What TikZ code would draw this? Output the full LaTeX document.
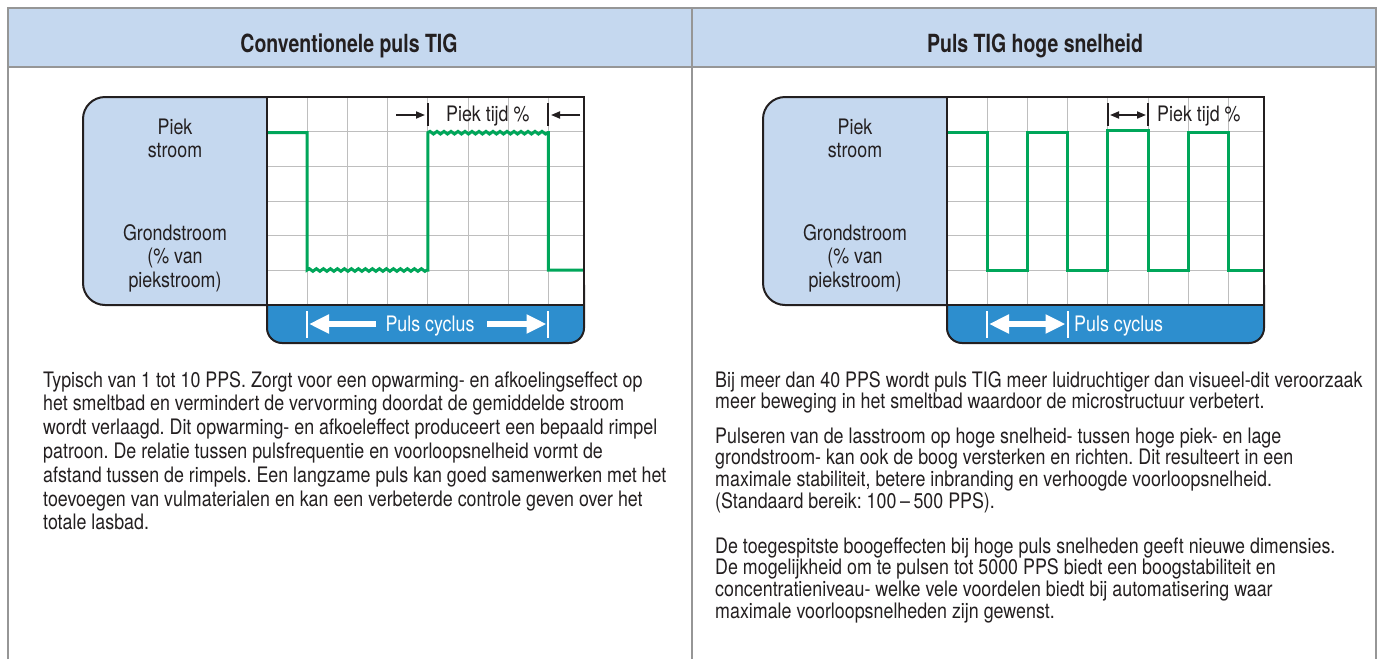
\documentclass[tikz,border=0pt]{standalone}
\usepackage{fontspec}
\setmainfont{TeX Gyre Heros}[FakeStretch=0.838]
\newfontfamily\hdrfont{TeX Gyre Heros}[FakeStretch=0.78]
\usetikzlibrary{arrows.meta,decorations.pathmorphing}
\definecolor{hdrblue}{RGB}{197,216,239}
\definecolor{framegray}{RGB}{150,150,150}
\definecolor{barblue}{RGB}{45,142,206}
\definecolor{pulsegreen}{RGB}{0,166,90}
\definecolor{gridgray}{RGB}{190,190,190}
\definecolor{ink}{RGB}{35,31,32}
\frenchspacing
\tikzset{
  txt/.style={font=\fontsize{21.3}{22}\selectfont, text=ink, inner sep=0pt},
  bodyline/.style={txt, anchor=base west},
  lbl/.style={txt, anchor=base},
  hdr/.style={font=\hdrfont\bfseries\fontsize{25}{27}\selectfont, text=ink, inner sep=0pt, anchor=base},
  framel/.style={draw=framegray, line width=2.5pt},
  chartline/.style={draw=ink, line width=2pt},
  gridl/.style={draw=gridgray, line width=0.9pt},
  pulse/.style={draw=pulsegreen, line width=3pt, line join=miter},
  wavy/.style={decorate, decoration={snake, segment length=7pt, amplitude=1.3pt}},
  whitearrow/.style={draw=white, line width=6pt, -{Triangle[length=20pt,width=18pt]}},
  whitedbl/.style={draw=white, line width=6pt, {Triangle[length=20pt,width=18pt]}-{Triangle[length=20pt,width=18pt]}},
  blackarrow/.style={draw=ink, line width=1.8pt, -{Triangle[length=9pt,width=7pt]}},
  blackdbl/.style={draw=ink, line width=1.8pt, {Triangle[length=9pt,width=7pt]}-{Triangle[length=9pt,width=7pt]}},
  tickb/.style={draw=ink, line width=2pt},
  tickw/.style={draw=white, line width=2pt}
}
\begin{document}
\begin{tikzpicture}[x=1pt,y=-1pt]
\useasboundingbox (0,0) rectangle (1383,659);
% header band and frame
\fill[hdrblue] (8,8) rectangle (1376,67);
\draw[framel] (8,659) -- (8,8) -- (1376,8) -- (1376,659);
\draw[framel] (692,8) -- (692,659);
\draw[framel] (8,67) -- (1376,67);
\node[hdr] (hL) at (349,52) {Conventionele puls TIG};
\node[hdr] (hR) at (1035,52) {Puls TIG hoge snelheid};

% chart bases
\foreach \p/\dx in {L/0,R/680}{
\begin{scope}[xshift=\dx pt]
  \draw[chartline, fill=hdrblue, rounded corners=22pt] (83,97) rectangle (310,305);
  \draw[chartline, fill=barblue, rounded corners=15pt] (267,270) rectangle (584,343);
  \fill[white] (267,97) rectangle (584,305);
  \foreach \k in {1,...,7}{ \draw[gridl] ({267+40.2*\k},97) -- ({267+40.2*\k},305); }
  \foreach \k in {1,...,5}{ \draw[gridl] (267,{97+34.67*\k}) -- (584,{97+34.67*\k}); }
  \node[lbl] (\p-piek) at (175,134) {Piek};
  \node[lbl] (\p-stroom) at (175,157) {stroom};
  \node[lbl] (\p-grond) at (175,240) {Grondstroom};
  \node[lbl] (\p-van) at (175,263) {(\% van};
  \node[lbl] (\p-pieks) at (175,287) {piekstroom)};
\end{scope}
}

% left pulse
\draw[pulse] (267,132.7) -- (307.2,132.7) -- (307.2,270) decorate[wavy]{-- (427.8,270)} -- (427.8,132.7) decorate[wavy]{-- (548.4,132.7)} -- (548.4,270) -- (584,270);
% right pulse
\draw[pulse] (947,132.7) -- (987.2,132.7) -- (987.2,270) -- (1027.4,270) -- (1027.4,132.7) -- (1067.6,132.7) -- (1067.6,270) -- (1107.8,270) -- (1107.8,130.5) -- (1148,130.5) -- (1148,270) -- (1188.2,270) -- (1188.2,132.7) -- (1228.4,132.7) -- (1228.4,270) -- (1264,270);

% outlines on top
\foreach \dx in {0,680}{
\begin{scope}[xshift=\dx pt]
  \draw[chartline] (267,97) rectangle (584,305);
\end{scope}
}

% left annotations
\node[lbl] (L-tijd) at (487.8,121) {Piek tijd \%};
\coordinate (L-t1a) at (427.8,103); \coordinate (L-t1b) at (427.8,126);
\coordinate (L-t2a) at (548.4,103); \coordinate (L-t2b) at (548.4,126);
\draw[tickb] (L-t1a) -- (L-t1b);
\draw[tickb] (L-t2a) -- (L-t2b);
\coordinate (L-a1s) at (396,115); \coordinate (L-a1e) at (425,115);
\coordinate (L-a2s) at (580,115); \coordinate (L-a2e) at (551,115);
\draw[blackarrow] (L-a1s) -- (L-a1e);
\draw[blackarrow] (L-a2s) -- (L-a2e);

\node[lbl, text=white] (L-cyc) at (430,331) {Puls cyclus};
\coordinate (L-w1a) at (307.2,311); \coordinate (L-w1b) at (307.2,338);
\coordinate (L-w2a) at (548.4,311); \coordinate (L-w2b) at (548.4,338);
\draw[tickw] (L-w1a) -- (L-w1b);
\draw[tickw] (L-w2a) -- (L-w2b);
\coordinate (L-b1s) at (376,324); \coordinate (L-b1e) at (309,324);
\coordinate (L-b2s) at (487,324); \coordinate (L-b2e) at (546.5,324);
\draw[whitearrow] (L-b1s) -- (L-b1e);
\draw[whitearrow] (L-b2s) -- (L-b2e);

% right annotations
\node[lbl, anchor=base west] (R-tijd) at (1157,121) {Piek tijd \%};
\coordinate (R-t1a) at (1107.8,103); \coordinate (R-t1b) at (1107.8,126);
\coordinate (R-t2a) at (1148,103); \coordinate (R-t2b) at (1148,126);
\draw[tickb] (R-t1a) -- (R-t1b);
\draw[tickb] (R-t2a) -- (R-t2b);
\coordinate (R-as) at (1110,115); \coordinate (R-ae) at (1146,115);
\draw[blackdbl] (R-as) -- (R-ae);

\node[lbl, text=white, anchor=base west] (R-cyc) at (1074,331) {Puls cyclus};
\coordinate (R-w1a) at (987.2,311); \coordinate (R-w1b) at (987.2,338);
\coordinate (R-w2a) at (1067.6,311); \coordinate (R-w2b) at (1067.6,338);
\draw[tickw] (R-w1a) -- (R-w1b);
\draw[tickw] (R-w2a) -- (R-w2b);
\coordinate (R-bs) at (989,324); \coordinate (R-be) at (1065.5,324);
\draw[whitedbl] (R-bs) -- (R-be);

% left body text
\node[bodyline] (l1) at (43,387) {Typisch van 1 tot 10 PPS. Zorgt voor een opwarming- en afkoelingseffect op};
\node[bodyline] (l2) at (43,410.8) {het smeltbad en vermindert de vervorming doordat de gemiddelde stroom};
\node[bodyline] (l3) at (43,434.6) {wordt verlaagd. Dit opwarming- en afkoeleffect produceert een bepaald rimpel};
\node[bodyline] (l4) at (43,458.4) {patroon. De relatie tussen pulsfrequentie en voorloopsnelheid vormt de};
\node[bodyline] (l5) at (43,482.2) {afstand tussen de rimpels. Een langzame puls kan goed samenwerken met het};
\node[bodyline] (l6) at (43,506) {toevoegen van vulmaterialen en kan een verbeterde controle geven over het};
\node[bodyline] (l7) at (43,529.8) {totale lasbad.};

% right body text
\node[bodyline] (r1) at (715,387) {Bij meer dan 40 PPS wordt puls TIG meer luidruchtiger dan visueel-dit veroorzaak};
\node[bodyline] (r2) at (715,408.7) {meer beweging in het smeltbad waardoor de microstructuur verbetert.};
\node[bodyline] (r3) at (715,443) {Pulseren van de lasstroom op hoge snelheid- tussen hoge piek- en lage};
\node[bodyline] (r4) at (715,464.7) {grondstroom- kan ook de boog versterken en richten. Dit resulteert in een};
\node[bodyline] (r5) at (715,486.4) {maximale stabiliteit, betere inbranding en verhoogde voorloopsnelheid.};
\node[bodyline] (r6) at (715,508.1) {(Standaard bereik: 100\,--\,500 PPS).};
\node[bodyline] (r7) at (715,553) {De toegespitste boogeffecten bij hoge puls snelheden geeft nieuwe dimensies.};
\node[bodyline] (r8) at (715,574.7) {De mogelijkheid om te pulsen tot 5000 PPS biedt een boogstabiliteit en};
\node[bodyline] (r9) at (715,596.4) {concentratieniveau- welke vele voordelen biedt bij automatisering waar};
\node[bodyline] (r10) at (715,618.1) {maximale voorloopsnelheden zijn gewenst.};
\end{tikzpicture}
\end{document}
